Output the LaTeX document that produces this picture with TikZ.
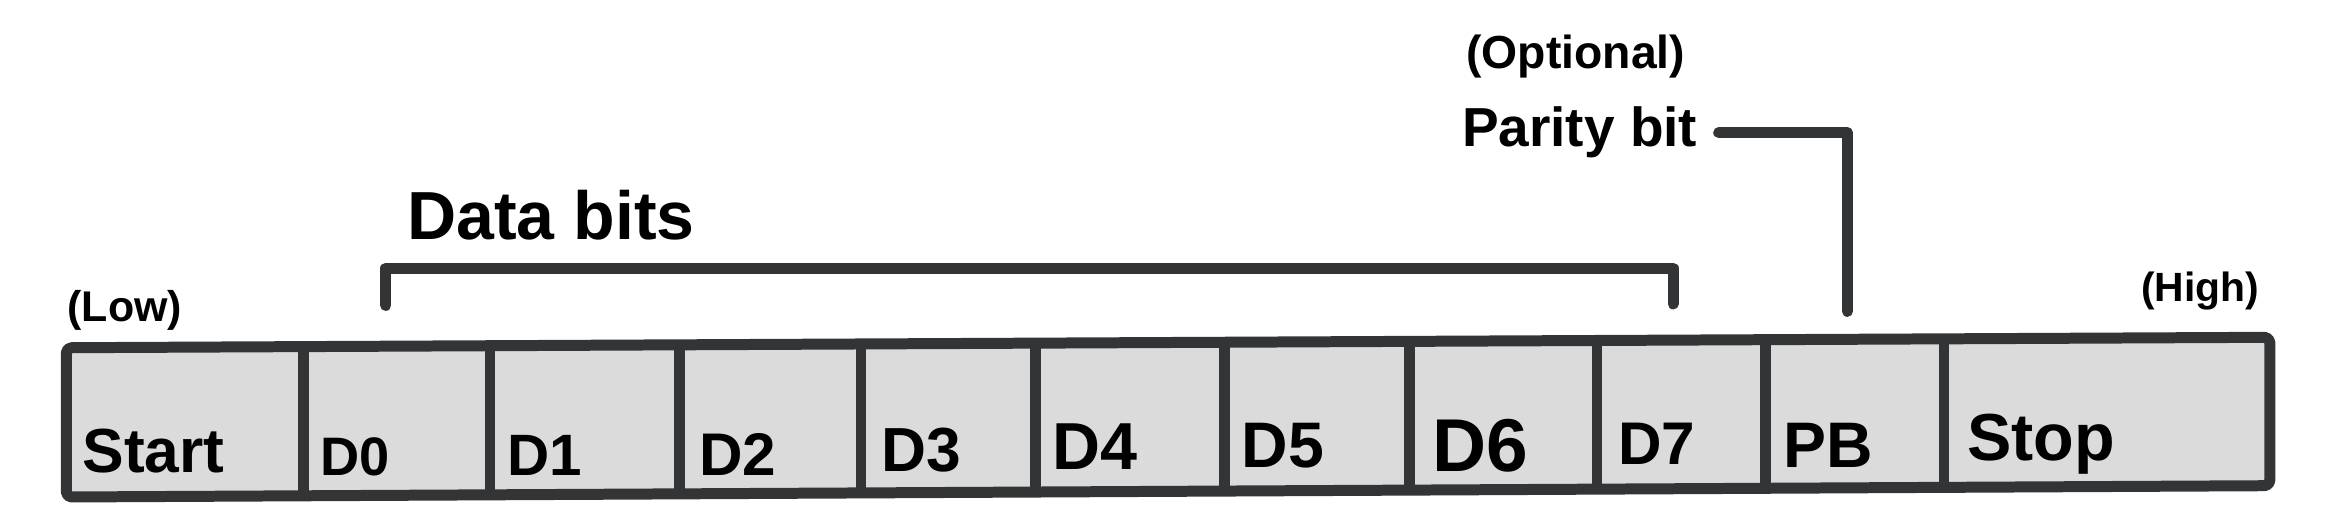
\documentclass[tikz,border=0pt]{standalone}
\usepackage{fontspec}
\setmainfont{Liberation Sans}
\usepackage{tikz}
\usetikzlibrary{calc}
\definecolor{LineGray}{HTML}{333436}
\definecolor{CellGray}{HTML}{DBDBDB}
\tikzset{
  frame/.style={draw=LineGray,fill=CellGray,line width=4.2pt,
                line join=round,rounded corners=2pt},
  divl/.style={draw=LineGray,line width=4pt},
  brk/.style={draw=LineGray,line width=4.2pt,line cap=round,line join=round},
  lbl/.style={inner sep=0pt,anchor=base west,
              font=\bfseries\fontsize{#1}{#1}\selectfont},
}
\begin{document}
\begin{tikzpicture}[x=0.02cm,y=-0.02cm]
  \useasboundingbox (0,0) rectangle (1568,356);

  % frame of the word
  \draw[frame] (44.5,233.4) -- (1523.6,226.4) -- (1523.6,326)
               -- (44.5,333.6) -- cycle;
  \foreach \x in {203.7,329,456,578,695,822,946,1072,1185,1305}
    \draw[divl] (\x,{233.4-7*(\x-44.5)/1479})
             -- (\x,{333.6-7.6*(\x-44.5)/1479});

  % bit names
  \node[lbl=23.8] (start) at (55,317)    {Start};
  \node[lbl=20.7] (dzero) at (215,319)   {D0};
  \node[lbl=22.3] (done)  at (340,319)   {D1};
  \node[lbl=23]   (dtwo)  at (469,319)   {D2};
  \node[lbl=23.8] (dthree) at (591.5,316.5) {D3};
  \node[lbl=25.4] (dfour) at (706,315)   {D4};
  \node[lbl=24.6] (dfive) at (833,314)   {D5};
  \node[lbl=28.6] (dsix)  at (961,316.5) {D6};
  \node[lbl=23]   (dseven) at (1086,312) {D7};
  \node[lbl=24.6] (pb)    at (1197,314)  {PB};
  \node[lbl=25.4] (stop)  at (1320,309)  {Stop};

  % ends of the word
  \node[lbl=16.4] (low)  at (45,216)     {(Low)};
  \node[lbl=15.6] (high) at (1437,202.6) {(High)};

  % data bits bracket
  \node[lbl=26] (databits) at (273,161) {Data bits};
  \coordinate (dlo)  at (259,205);
  \coordinate (dtop) at (259,180);
  \coordinate (dhi)  at (1123,204);
  \draw[brk] (dlo) -- (dtop) -| (dhi);

  % parity bit pointer
  \node[lbl=17.7] (optional) at (984,46) {(Optional)};
  \node[lbl=21]   (parity)   at (981,98.6) {Parity bit};
  \coordinate (pbtop) at (1240,209);
  \draw[brk,shorten <=8pt] (parity.east) -| (pbtop);

\end{tikzpicture}
\end{document}
